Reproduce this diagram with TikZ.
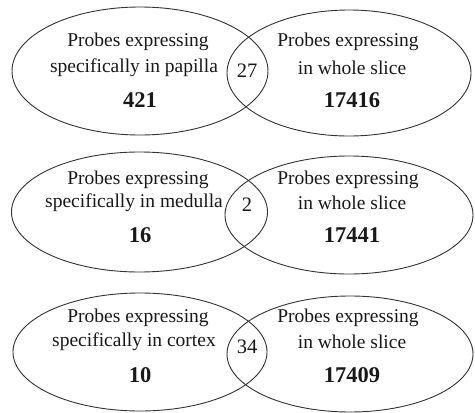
\documentclass[tikz,border=0pt]{standalone}
\usepackage{fontspec}
\setmainfont{Liberation Serif}
\begin{document}
\begin{tikzpicture}[x=1pt,y=1pt,
  setline/.style={draw=black!80, line width=0.9pt},
  lbl/.style={inner sep=0pt, text=black!90, font=\fontsize{19.5}{22}\selectfont},
  num/.style={inner sep=0pt, text=black!90, font=\fontsize{22.5}{24}\selectfont\bfseries},
  mid/.style={inner sep=0pt, text=black!90, font=\fontsize{20.5}{22}\selectfont}]
\useasboundingbox (0,0) rectangle (475,-413);
\fill[white] (0,0) rectangle (475,-413);
% Row 1
\draw[setline] (140,-71) ellipse [x radius=128, y radius=64];
\draw[setline] (349,-73) ellipse [x radius=122, y radius=63];
\node[lbl] (a1) at (138,-42) {Probes expressing};
\node[lbl] (a2) at (134,-68) {specifically in papilla};
\node[num] (a3) at (140,-100) {421};
\node[lbl] (b1) at (348,-42) {Probes expressing};
\node[lbl] (b2) at (352,-68) {in whole slice};
\node[num] (b3) at (352,-100) {17416};
\node[mid] (c1) at (247,-71) {27};
% Row 2
\draw[setline] (139.5,-212) ellipse [x radius=128, y radius=60];
\draw[setline] (349,-215) ellipse [x radius=124, y radius=59];
\node[lbl] (d1) at (138,-180) {Probes expressing};
\node[lbl] (d2) at (134,-203) {specifically in medulla};
\node[num] (d3) at (140,-235) {16};
\node[lbl] (e1) at (348,-180) {Probes expressing};
\node[lbl] (e2) at (352,-203) {in whole slice};
\node[num] (e3) at (352,-235) {17441};
\node[mid] (f1) at (247,-205) {2};
% Row 3
\draw[setline] (140,-352) ellipse [x radius=127, y radius=59];
\draw[setline] (350,-354) ellipse [x radius=123, y radius=58];
\node[lbl] (g1) at (138,-318) {Probes expressing};
\node[lbl] (g2) at (134,-342) {specifically in cortex};
\node[num] (g3) at (140,-375) {10};
\node[lbl] (h1) at (348,-318) {Probes expressing};
\node[lbl] (h2) at (352,-342) {in whole slice};
\node[num] (h3) at (352,-375) {17409};
\node[mid] (i1) at (247,-347) {34};
\end{tikzpicture}
\end{document}
